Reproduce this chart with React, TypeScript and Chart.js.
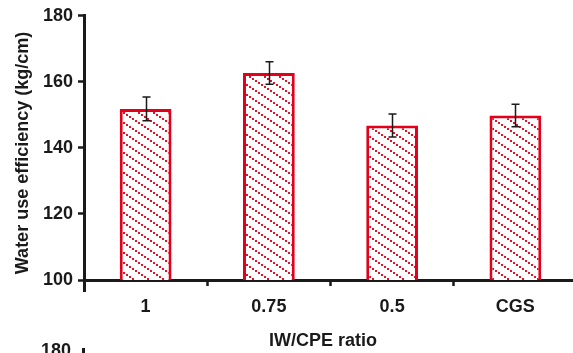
import React, { useEffect, useRef } from "react";
import { Chart, registerables } from "chart.js";
Chart.register(...registerables);

const categories = ["1", "0.75", "0.5", "CGS"];
const values = [151.8, 162.7, 146.8, 149.8];
const errors = [3.6, 3.4, 3.5, 3.4];
const yTicks = [100, 120, 140, 160, 180];
const yTitle = "Water use efficiency (kg/cm)";
const xTitle = "IW/CPE ratio";
const nextChartTopLabel = "180";

const RED = "#e2001a";
const INK = "#1a1a1a";
const FONT = "'Liberation Sans', Arial, sans-serif";

function makePattern(ctx: CanvasRenderingContext2D) {
  const w = 15;
  const h = 10;
  const c = document.createElement("canvas");
  c.width = w;
  c.height = h;
  const g = c.getContext("2d")!;
  g.fillStyle = "#ffffff";
  g.fillRect(0, 0, w, h);
  g.fillStyle = "#e60f26";
  for (let k = 0; k < 5; k++) {
    const x = 3 * k;
    const y = (2 * k) % h;
    g.fillRect(x, y, 2, 2);
  }
  return ctx.createPattern(c, "repeat")!;
}

export default function App() {
  const ref = useRef<HTMLCanvasElement | null>(null);
  useEffect(() => {
    const canvas = ref.current!;
    const ctx = canvas.getContext("2d")!;
    const pattern = makePattern(ctx);

    const errorBars = {
      id: "errorBars",
      afterDatasetsDraw(chart: any) {
        const c = chart.ctx;
        const meta = chart.getDatasetMeta(0);
        const y = chart.scales.y;
        c.save();
        c.strokeStyle = INK;
        c.lineWidth = 1.5;
        meta.data.forEach((bar: any, i: number) => {
          const x = Math.round(bar.x) + 0.5;
          const t = y.getPixelForValue(values[i] + errors[i]);
          const b = y.getPixelForValue(values[i] - errors[i]);
          c.beginPath();
          c.moveTo(x, t);
          c.lineTo(x, b);
          c.moveTo(x - 4, t);
          c.lineTo(x + 4, t);
          c.moveTo(x - 4, b);
          c.lineTo(x + 4, b);
          c.stroke();
        });
        c.restore();
      },
    };

    const extras = {
      id: "extras",
      afterDraw(chart: any) {
        const c = chart.ctx;
        const a = chart.chartArea;
        c.save();
        c.fillStyle = INK;
        c.fillRect(a.left - 1, a.bottom, 3, 12);
        c.font = `bold 18px ${FONT}`;
        c.textAlign = "center";
        c.textBaseline = "middle";
        c.fillText(xTitle, 323, 341);
        c.save();
        c.translate(23, 153);
        c.rotate(-Math.PI / 2);
        c.fillText(yTitle, 0, 0);
        c.restore();
        c.textAlign = "right";
        c.textBaseline = "alphabetic";
        c.fillText(nextChartTopLabel, 71, 356);
        c.fillRect(a.left - 2, 348, 3, 6);
        c.restore();
      },
    };

    const chart = new Chart(canvas, {
      type: "bar",
      data: {
        labels: categories,
        datasets: [
          {
            data: values,
            backgroundColor: pattern,
            borderColor: RED,
            borderWidth: 3,
            borderSkipped: false,
            barPercentage: 0.42,
            categoryPercentage: 1,
          },
        ],
      },
      options: {
        animation: false,
        responsive: false,
        devicePixelRatio: 1,
        layout: { padding: { left: 0, top: 15, right: 23, bottom: 0 } },
        plugins: { legend: { display: false }, tooltip: { enabled: false } },
        scales: {
          x: {
            afterFit: (s: any) => {
              s.height = 73;
            },
            grid: {
              drawOnChartArea: false,
              drawTicks: true,
              tickLength: 6,
              tickWidth: 2.5,
              tickColor: INK,
              offset: true,
            },
            border: { display: true, width: 3, color: INK },
            ticks: {
              color: INK,
              padding: 10,
              font: { family: FONT, size: 18, weight: "bold" },
            },
          },
          y: {
            min: yTicks[0],
            max: yTicks[yTicks.length - 1],
            afterFit: (s: any) => {
              s.width = 84;
            },
            afterBuildTicks: (s: any) => {
              s.ticks = yTicks.map((v) => ({ value: v }));
            },
            grid: {
              drawOnChartArea: false,
              drawTicks: true,
              tickLength: 6,
              tickWidth: 2.5,
              tickColor: INK,
            },
            border: { display: true, width: 3, color: INK },
            ticks: {
              color: INK,
              padding: 5,
              font: { family: FONT, size: 18, weight: "bold" },
            },
          },
        },
      },
      plugins: [errorBars, extras],
    });
    return () => chart.destroy();
  }, []);

  return (
    <div
      style={{
        position: "fixed",
        left: 0,
        top: 0,
        width: 573,
        height: 353,
        overflow: "hidden",
        background: "#ffffff",
      }}
    >
      <canvas ref={ref} width={600} height={353} style={{ display: "block" }} />
    </div>
  );
}
